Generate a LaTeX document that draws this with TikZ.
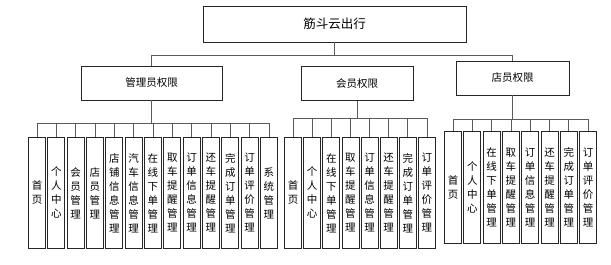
\documentclass[tikz,border=0pt]{standalone}
\usepackage{fontspec}
\newfontfamily\cjk{Noto Sans CJK SC}
\begin{document}
\begin{tikzpicture}[x=1pt,y=-1pt,
  box/.style={draw=black!85,line width=0.8pt,inner sep=0pt},
  topbox/.style={box,minimum width=263pt,minimum height=36pt,font=\cjk\fontsize{12.5}{14}\selectfont},
  midbox/.style={box,minimum height=34pt,font=\cjk\fontsize{10.5}{13}\selectfont},
  leaf/.style={box,anchor=north,minimum width=17pt,minimum height=111pt,align=center,font=\cjk\fontsize{10.5}{14}\selectfont},
  conn/.style={draw=black!65,line width=0.8pt}]
\useasboundingbox (0,0) rectangle (611,265);
\fill[white] (0,0) rectangle (611,265);
% top
\node[topbox] (root) at (334.5,24) {筋斗云出行};
\node[midbox,minimum width=141pt] (admin) at (151.5,83) {管理员权限};
\node[midbox,minimum width=112pt] (member) at (357,83.5) {会员权限};
\node[midbox,minimum width=113pt] (store) at (512.5,78) {店员权限};
\coordinate (bus) at (0,55);
\draw[conn] (root.south) -- (root.south |- bus);
\draw[conn] (admin.north) -- (admin.north |- bus) -- (store.north |- bus) -- (store.north);
% admin leaves
\foreach \t [count=\i] in {首\\页,个\\人\\中\\心,会\\员\\管\\理,店\\员\\管\\理,店\\铺\\信\\息\\管\\理,汽\\车\\信\\息\\管\\理,在\\线\\下\\单\\管\\理,取\\车\\提\\醒\\管\\理,订\\单\\信\\息\\管\\理,还\\车\\提\\醒\\管\\理,完\\成\\订\\单\\管\\理,订\\单\\评\\价\\管\\理,系\\统\\管\\理}{
  \node[leaf] (a\i) at ({37+19.33*(\i-1)},137) {\t};
}
\coordinate (abus) at (0,123);
\draw[conn] (admin.south) -- (admin.south |- abus);
\draw[conn] (a1.north |- abus) -- (a13.north |- abus);
\foreach \i in {1,...,13}{\draw[conn] (a\i.north |- abus) -- (a\i.north);}
% member leaves
\foreach \t [count=\i] in {首\\页,个\\人\\中\\心,在\\线\\下\\单\\管\\理,取\\车\\提\\醒\\管\\理,订\\单\\信\\息\\管\\理,还\\车\\提\\醒\\管\\理,完\\成\\订\\单\\管\\理,订\\单\\评\\价\\管\\理}{
  \node[leaf] (m\i) at ({293+19.14*(\i-1)},137) {\t};
}
\coordinate (mbus) at (0,118);
\draw[conn] (member.south) -- (member.south |- mbus);
\draw[conn] (m1.north |- mbus) -- (m8.north |- mbus);
\foreach \i in {1,...,8}{\draw[conn] (m\i.north |- mbus) -- (m\i.north);}
% store leaves
\foreach \t [count=\i] in {首\\页,个\\人\\中\\心,在\\线\\下\\单\\管\\理,取\\车\\提\\醒\\管\\理,订\\单\\信\\息\\管\\理,还\\车\\提\\醒\\管\\理,完\\成\\订\\单\\管\\理,订\\单\\评\\价\\管\\理}{
  \node[leaf,minimum height=112pt] (s\i) at ({453+19.3*(\i-1)},131) {\t};
}
\coordinate (sbus) at (0,119);
\draw[conn] (store.south) -- (store.south |- sbus);
\draw[conn] (s1.north |- sbus) -- (s8.north |- sbus);
\foreach \i in {1,...,8}{\draw[conn] (s\i.north |- sbus) -- (s\i.north);}
\end{tikzpicture}
\end{document}
